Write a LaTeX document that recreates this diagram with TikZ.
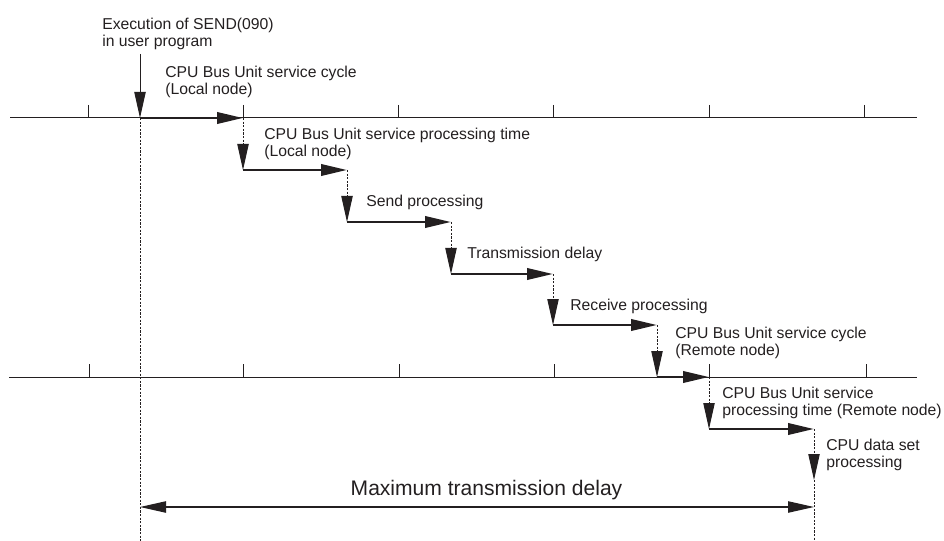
\documentclass[tikz,border=0pt]{standalone}
\usepackage{fontspec}
\setmainfont{Liberation Sans}
\usetikzlibrary{arrows.meta}
\definecolor{ink}{HTML}{231F20}
\begin{document}
\begin{tikzpicture}[x=0.75pt,y=-0.75pt,
  tip/.tip={Triangle[length=19.5pt,width=8.5pt]},
  timeline/.style={draw=ink,line width=0.75pt},
  tickmark/.style={draw=ink,line width=0.75pt},
  stepline/.style={draw=ink,line width=2pt,-tip},
  waitline/.style={draw=ink,line width=0.75pt,dash pattern=on 1.6pt off 1.1pt,-tip},
  guide/.style={draw=ink,line width=0.75pt,dash pattern=on 1.6pt off 1.1pt},
  label/.style={anchor=base west,inner sep=0pt,align=left,text=ink,
    font=\fontsize{11.8}{13.1}\selectfont},
  biglabel/.style={anchor=base,inner sep=0pt,text=ink,
    font=\fontsize{15.8}{18}\selectfont}]
\useasboundingbox (0,0) rectangle (944,541);
% timelines
\coordinate (tl1) at (10,118);
\coordinate (tr1) at (917,118);
\coordinate (tl2) at (9,377);
\coordinate (tr2) at (917,377);
\draw[timeline] (tl1) -- (tr1);
\draw[timeline] (tl2) -- (tr2);
\foreach \x in {88,243,398,553,709,864} \draw[tickmark] (\x,105) -- (\x,118);
\foreach \x in {89,243,399,554,709,866} \draw[tickmark] (\x,364) -- (\x,377);
% step points
\coordinate (e0) at (140,54);
\coordinate (s0) at (140,118);
\coordinate (s1) at (243,118);
\coordinate (d1) at (243,170);
\coordinate (s2) at (347,170);
\coordinate (d2) at (347,222);
\coordinate (s3) at (451,222);
\coordinate (d3) at (451,274);
\coordinate (s4) at (553,274);
\coordinate (d4) at (553,325);
\coordinate (s5) at (657,325);
\coordinate (d5) at (657,377);
\coordinate (s6) at (709,377);
\coordinate (d6) at (709,429);
\coordinate (s7) at (814,429);
\coordinate (d7) at (814,480);
\coordinate (b0) at (140,541);
\coordinate (b7) at (814,541);
\coordinate (m0) at (140,507);
\coordinate (m1) at (814,507);
% guides
\draw[guide] (s0) -- (b0);
\draw[guide] (d7) -- (b7);
% arrows
\draw[draw=ink,line width=0.75pt,-tip] (e0) -- (s0);
\draw[stepline] (s0) -- (s1);
\draw[waitline] (s1) -- (d1);
\draw[stepline] (d1) -- (s2);
\draw[waitline] (s2) -- (d2);
\draw[stepline] (d2) -- (s3);
\draw[waitline] (s3) -- (d3);
\draw[stepline] (d3) -- (s4);
\draw[waitline] (s4) -- (d4);
\draw[stepline] (d4) -- (s5);
\draw[waitline] (s5) -- (d5);
\draw[stepline] (d5) -- (s6);
\draw[waitline] (s6) -- (d6);
\draw[stepline] (d6) -- (s7);
\draw[waitline] (s7) -- (d7);
\draw[draw=ink,line width=0.9pt,tip-tip] (m0) -- (m1);
% labels (base anchor = baseline of last line)
\node[label] (t1) at (102,47) {Execution of SEND(090)\\in user program};
\node[label] (t2) at (165,94.5) {CPU Bus Unit service cycle\\(Local node)};
\node[label] (t3) at (264,156.5) {CPU Bus Unit service processing time\\(Local node)};
\node[label] (t4) at (366,207) {Send processing};
\node[label] (t5) at (467,258) {Transmission delay};
\node[label] (t6) at (570,310) {Receive processing};
\node[label] (t7) at (675,355.5) {CPU Bus Unit service cycle\\(Remote node)};
\node[label] (t8) at (722,415.5) {CPU Bus Unit service\\processing time (Remote node)};
\node[label] (t9) at (826,467.5) {CPU data set\\processing};
\node[biglabel] (tm) at (486.5,495) {Maximum transmission delay};
\end{tikzpicture}
\end{document}
